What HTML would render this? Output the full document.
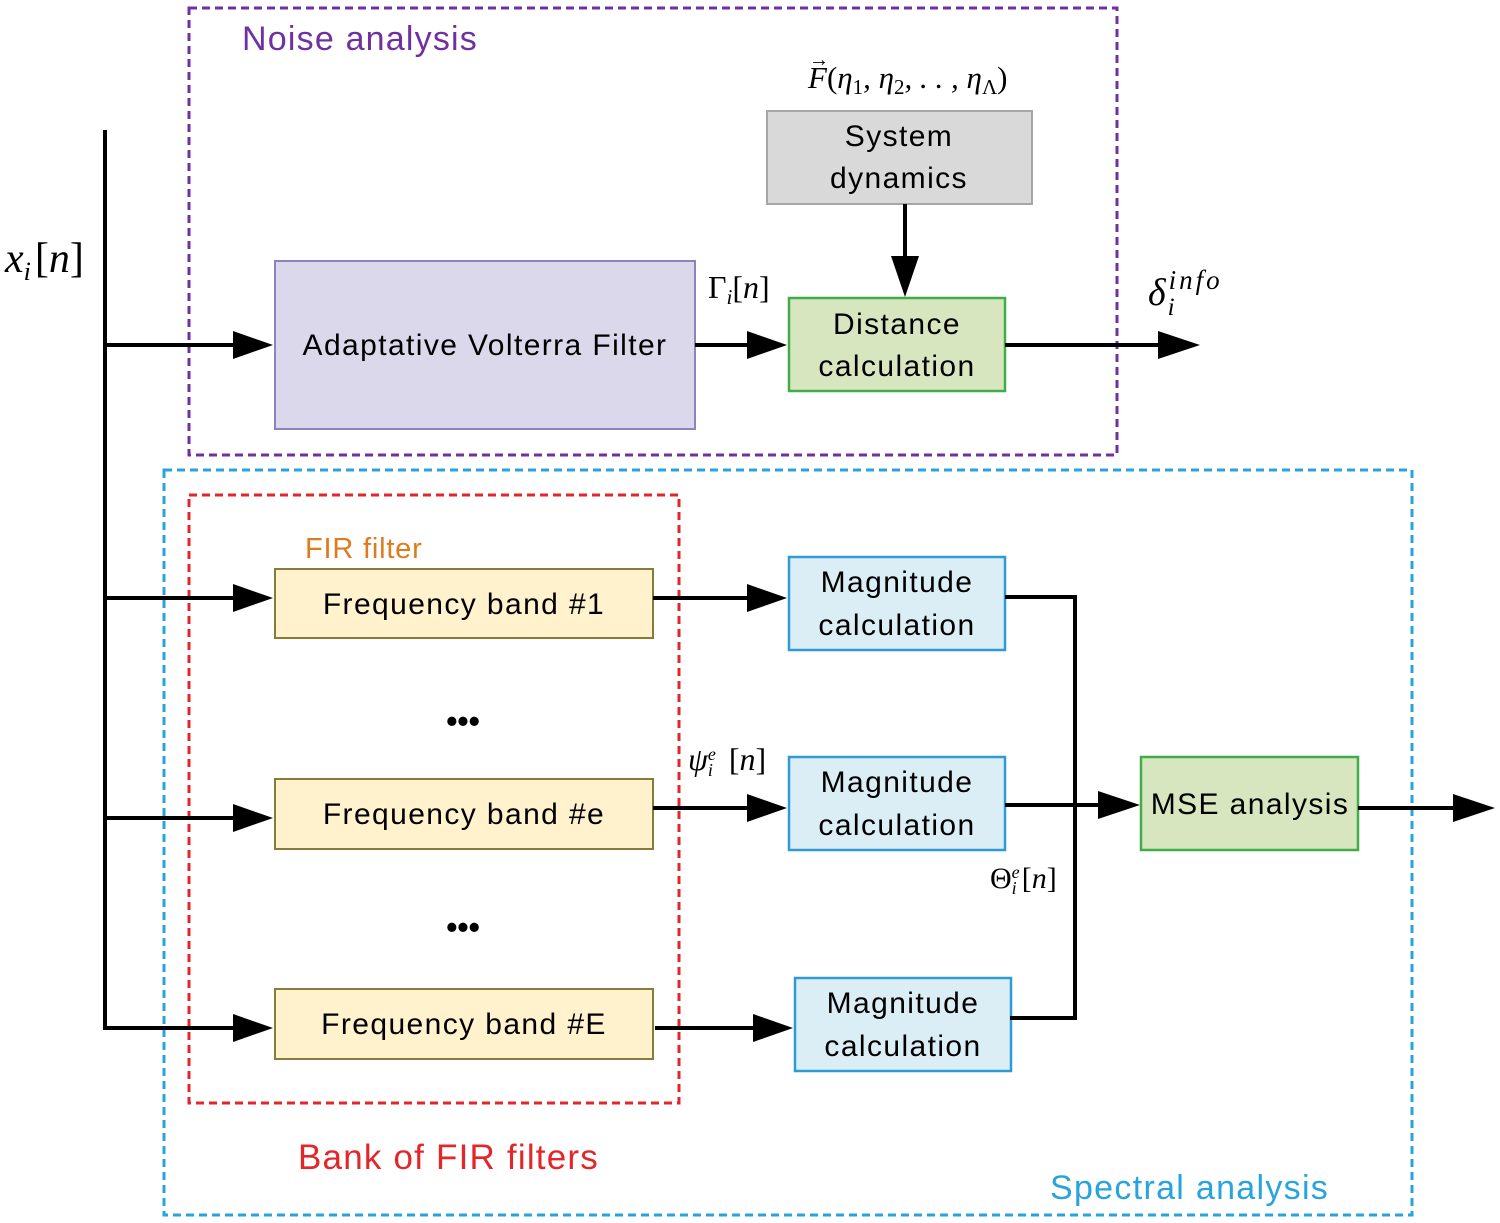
<!DOCTYPE html>
<html><head><meta charset="utf-8"><style>
html,body{margin:0;padding:0;background:#fff}
svg{display:block}
text{font-family:"Liberation Sans",sans-serif}
.b{font-size:30px;letter-spacing:1.4px}
.m{font-family:"Liberation Serif",serif;font-style:italic}
</style></head><body>
<svg width="1500" height="1223" viewBox="0 0 1500 1223" xmlns="http://www.w3.org/2000/svg">
<rect x="189" y="8" width="928" height="447" fill="none" stroke="#7030a0" stroke-width="3" stroke-dasharray="8,5"/>
<rect x="164" y="470" width="1248" height="745" fill="none" stroke="#29a3dc" stroke-width="3" stroke-dasharray="8,5"/>
<rect x="189" y="495" width="490" height="608" fill="none" stroke="#e3262a" stroke-width="3" stroke-dasharray="8,5"/>
<text x="242" y="50" font-size="34" letter-spacing="1.2" fill="#7030a0">Noise analysis</text>
<text x="298" y="1169" font-size="35" letter-spacing="1.2" fill="#e3262a">Bank of FIR filters</text>
<text x="1050" y="1199" font-size="34" letter-spacing="1.3" fill="#29a3dc">Spectral analysis</text>
<text x="305" y="558" font-size="29" letter-spacing="0.8" fill="#e07a1f">FIR filter</text>

<rect x="767" y="111" width="265" height="93" fill="#d9d9d9" stroke="#a6a6a6" stroke-width="2"/>
<text x="899" y="146" class="b" text-anchor="middle">System</text>
<text x="899" y="188" class="b" text-anchor="middle">dynamics</text>
<rect x="275" y="261" width="420" height="168" fill="#dcd8ec" stroke="#8f83bd" stroke-width="2"/>
<text x="485" y="355" class="b" text-anchor="middle">Adaptative Volterra Filter</text>
<rect x="789" y="298" width="216" height="93" fill="#d8e6c0" stroke="#3fae49" stroke-width="2.5"/>
<text x="897" y="334" class="b" text-anchor="middle">Distance</text>
<text x="897" y="376" class="b" text-anchor="middle">calculation</text>

<g fill="#fff2cc" stroke="#8a7a3a" stroke-width="2">
<rect x="275" y="569" width="378" height="69"/>
<rect x="275" y="779" width="378" height="70"/>
<rect x="275" y="989" width="378" height="70"/>
</g>
<g class="b" text-anchor="middle">
<text x="464" y="614">Frequency band #1</text>
<text x="464" y="824">Frequency band #e</text>
<text x="464" y="1034">Frequency band #E</text>
</g>
<text x="463" y="732" font-size="32" text-anchor="middle" font-weight="bold">•••</text>
<text x="463" y="938" font-size="32" text-anchor="middle" font-weight="bold">•••</text>

<g fill="#dbeef6" stroke="#2e9bd6" stroke-width="2.5">
<rect x="789" y="557" width="216" height="93"/>
<rect x="789" y="757" width="216" height="93"/>
<rect x="795" y="978" width="216" height="93"/>
</g>
<g class="b" text-anchor="middle">
<text x="897" y="592">Magnitude</text><text x="897" y="635">calculation</text>
<text x="897" y="792">Magnitude</text><text x="897" y="835">calculation</text>
<text x="903" y="1013">Magnitude</text><text x="903" y="1056">calculation</text>
</g>
<rect x="1141" y="757" width="217" height="93" fill="#d8e6c0" stroke="#3fae49" stroke-width="2.5"/>
<text x="1250" y="814" class="b" text-anchor="middle">MSE analysis</text>

<g stroke="#000" stroke-width="4" fill="none">
<line x1="105" y1="130" x2="105" y2="1030"/>
<line x1="105" y1="345" x2="235" y2="345"/>
<line x1="105" y1="598" x2="235" y2="598"/>
<line x1="105" y1="818" x2="235" y2="818"/>
<line x1="105" y1="1028" x2="235" y2="1028"/>
<line x1="695" y1="345" x2="750" y2="345"/>
<line x1="1005" y1="345" x2="1160" y2="345"/>
<line x1="905" y1="204" x2="905" y2="258"/>
<line x1="653" y1="598" x2="750" y2="598"/>
<line x1="653" y1="808" x2="750" y2="808"/>
<line x1="655" y1="1028" x2="755" y2="1028"/>
<polyline points="1005,597 1075,597 1075,1018 1010,1018"/>
<line x1="1005" y1="805" x2="1100" y2="805"/>
<line x1="1358" y1="808" x2="1455" y2="808"/>
</g>
<g fill="#000">
<polygon points="273,345 233,331 233,359"/>
<polygon points="273,598 233,584 233,612"/>
<polygon points="273,818 233,804 233,832"/>
<polygon points="273,1028 233,1014 233,1042"/>
<polygon points="787,345 747,331 747,359"/>
<polygon points="1200,345 1158,331 1158,359"/>
<polygon points="905,297 891,256 919,256"/>
<polygon points="787,598 747,584 747,612"/>
<polygon points="787,808 747,794 747,822"/>
<polygon points="793,1028 753,1014 753,1042"/>
<polygon points="1140,805 1098,791 1098,819"/>
<polygon points="1495,808 1453,794 1453,822"/>
</g>

<text x="5" y="272" font-size="42" class="m">x<tspan font-size="26" dy="8">i</tspan><tspan dx="4" dy="-8" font-style="normal">[</tspan>n<tspan font-style="normal">]</tspan></text>
<text x="708" y="298" font-size="32" class="m"><tspan font-style="normal">Γ</tspan><tspan font-size="21" dy="6">i</tspan><tspan dy="-6" font-style="normal">[</tspan>n<tspan font-style="normal">]</tspan></text>
<text x="808" y="88" font-size="31" class="m">F<tspan font-style="normal">(</tspan>η<tspan font-size="21" dy="6" font-style="normal">1</tspan><tspan dy="-6">, η</tspan><tspan font-size="21" dy="6" font-style="normal">2</tspan><tspan dy="-6">, . . , η</tspan><tspan font-size="21" dy="6" font-style="normal">Λ</tspan><tspan dy="-6" font-style="normal">)</tspan></text>
<text x="809" y="66" font-size="20" class="m">→</text>
<text x="1148" y="305" font-size="38" class="m">δ<tspan font-size="25" dx="2" dy="10">i</tspan><tspan font-size="27" dx="-6" dy="-26" letter-spacing="3">info</tspan></text>
<text x="688" y="770" font-size="32" class="m">ψ<tspan font-size="18" dy="-10">e</tspan><tspan font-size="18" dx="-8" dy="16">i</tspan><tspan dx="16" dy="-6" font-style="normal">[</tspan>n<tspan font-style="normal">]</tspan></text>
<text x="990" y="888" font-size="30" class="m"><tspan font-style="normal">Θ</tspan><tspan font-size="18" dy="-10">e</tspan><tspan font-size="18" dx="-8" dy="16">i</tspan><tspan dx="5" dy="-6" font-style="normal">[</tspan>n<tspan font-style="normal">]</tspan></text>
</svg>
</body></html>
